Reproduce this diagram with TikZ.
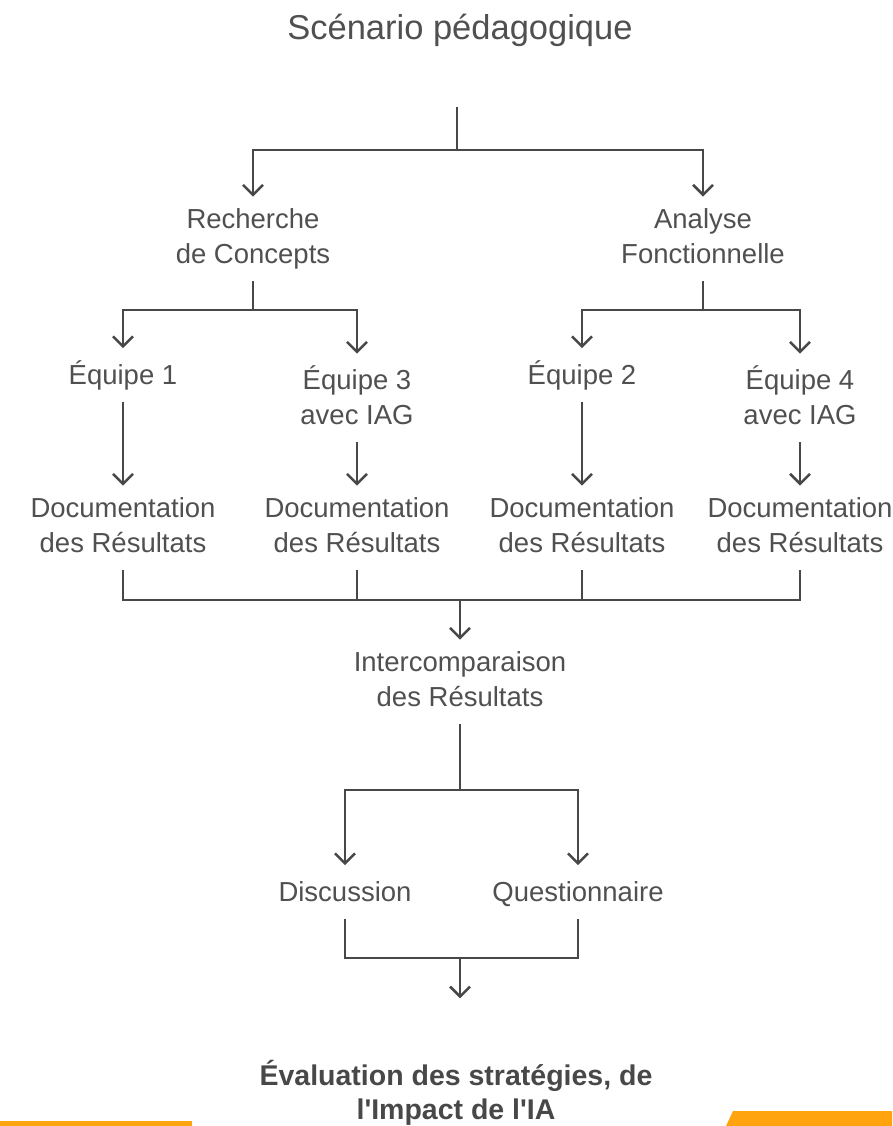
\documentclass[tikz,border=0pt]{standalone}
\usepackage{fontspec}
\setmainfont{Liberation Sans}
\usetikzlibrary{arrows.meta, positioning}
\definecolor{ink}{RGB}{72,72,72}
\definecolor{txt}{RGB}{80,80,80}
\definecolor{orng}{RGB}{255,163,15}
\tikzset{
  lbl/.style={inner sep=0pt, outer sep=12pt, align=center, text=txt,
              execute at begin node=\vphantom{Ép},
              execute at end node=\vphantom{p},
              font=\fontsize{27.5}{35}\selectfont},
  ttl/.style={inner sep=0pt, text=txt, font=\fontsize{34.5}{40}\selectfont},
  fin/.style={inner sep=0pt, outer sep=12pt, align=center, text=ink,
              font=\fontsize{28.5}{34}\selectfont\bfseries},
  ln/.style={draw=ink, line width=2.6pt},
  ar/.style={ln, -{Straight Barb[length=10pt, width=20pt]}}
}

\begin{document}
\begin{tikzpicture}[x=1pt, y=-1pt]
    \useasboundingbox (0,0) rectangle (892,1126);

    % titre
    \node[ttl] (titre) at (460,30) {Scénario pédagogique};

    % deux axes de travail
    \coordinate (top) at (457,107);
    \coordinate (jA) at (457,150);
    \node[lbl] (rech) at (253,239) {Recherche\\de Concepts};
    \node[lbl] (anal) at (703,239) {Analyse\\Fonctionnelle};
    \draw[ln] (top) -- (jA);
    \draw[ar] (jA) -| (rech);
    \draw[ar] (jA) -| (anal);

    % équipes
    \coordinate (jR) at (253,310);
    \coordinate (jN) at (703,310);
    \node[lbl] (eq1) at (123,375) {Équipe 1};
    \node[lbl] (eq3) at (357,398) {Équipe 3\\avec IAG};
    \node[lbl] (eq2) at (582,375) {Équipe 2};
    \node[lbl] (eq4) at (800,398) {Équipe 4\\avec IAG};
    \draw[ln] (rech) -- (jR);
    \draw[ar] (jR) -| (eq1);
    \draw[ar] (jR) -| (eq3);
    \draw[ln] (anal) -- (jN);
    \draw[ar] (jN) -| (eq2);
    \draw[ar] (jN) -| (eq4);

    % documentation
    \node[lbl] (doc1) at (123,528) {Documentation\\des Résultats};
    \node[lbl] (doc3) at (357,528) {Documentation\\des Résultats};
    \node[lbl] (doc2) at (582,528) {Documentation\\des Résultats};
    \node[lbl] (doc4) at (800,528) {Documentation\\des Résultats};
    \draw[ar] (eq1) -- (doc1);
    \draw[ar] (eq3) -- (doc3);
    \draw[ar] (eq2) -- (doc2);
    \draw[ar] (eq4) -- (doc4);

    % regroupement
    \coordinate (jD) at (460,600);
    \node[lbl] (inter) at (460,682) {Intercomparaison\\des Résultats};
    \draw[ln] (doc1) |- (jD);
    \draw[ln] (doc3) |- (jD);
    \draw[ln] (doc2) |- (jD);
    \draw[ln] (doc4) |- (jD);
    \draw[ar] (jD) -- (inter);

    % discussion / questionnaire
    \coordinate (jI) at (460,790);
    \node[lbl] (disc) at (345,892) {Discussion};
    \node[lbl] (quest) at (578,892) {Questionnaire};
    \draw[ln] (inter) -- (jI);
    \draw[ar] (jI) -| (disc);
    \draw[ar] (jI) -| (quest);

    % évaluation
    \coordinate (jE) at (460,958);
    \node[fin] (eval) at (456,1093) {Évaluation des stratégies, de\\l\textquotesingle Impact de l\textquotesingle IA};
    \draw[ln] (disc) |- (jE);
    \draw[ln] (quest) |- (jE);
    \draw[ar, shorten >=50pt] (jE) -- (jE |- eval.north);

    % bandes orange
    \fill[orng] (0,1121) rectangle (192,1126);
    \fill[orng] (733,1111) -- (892,1111) -- (892,1126) -- (726,1126) -- cycle;
\end{tikzpicture}
\end{document}
